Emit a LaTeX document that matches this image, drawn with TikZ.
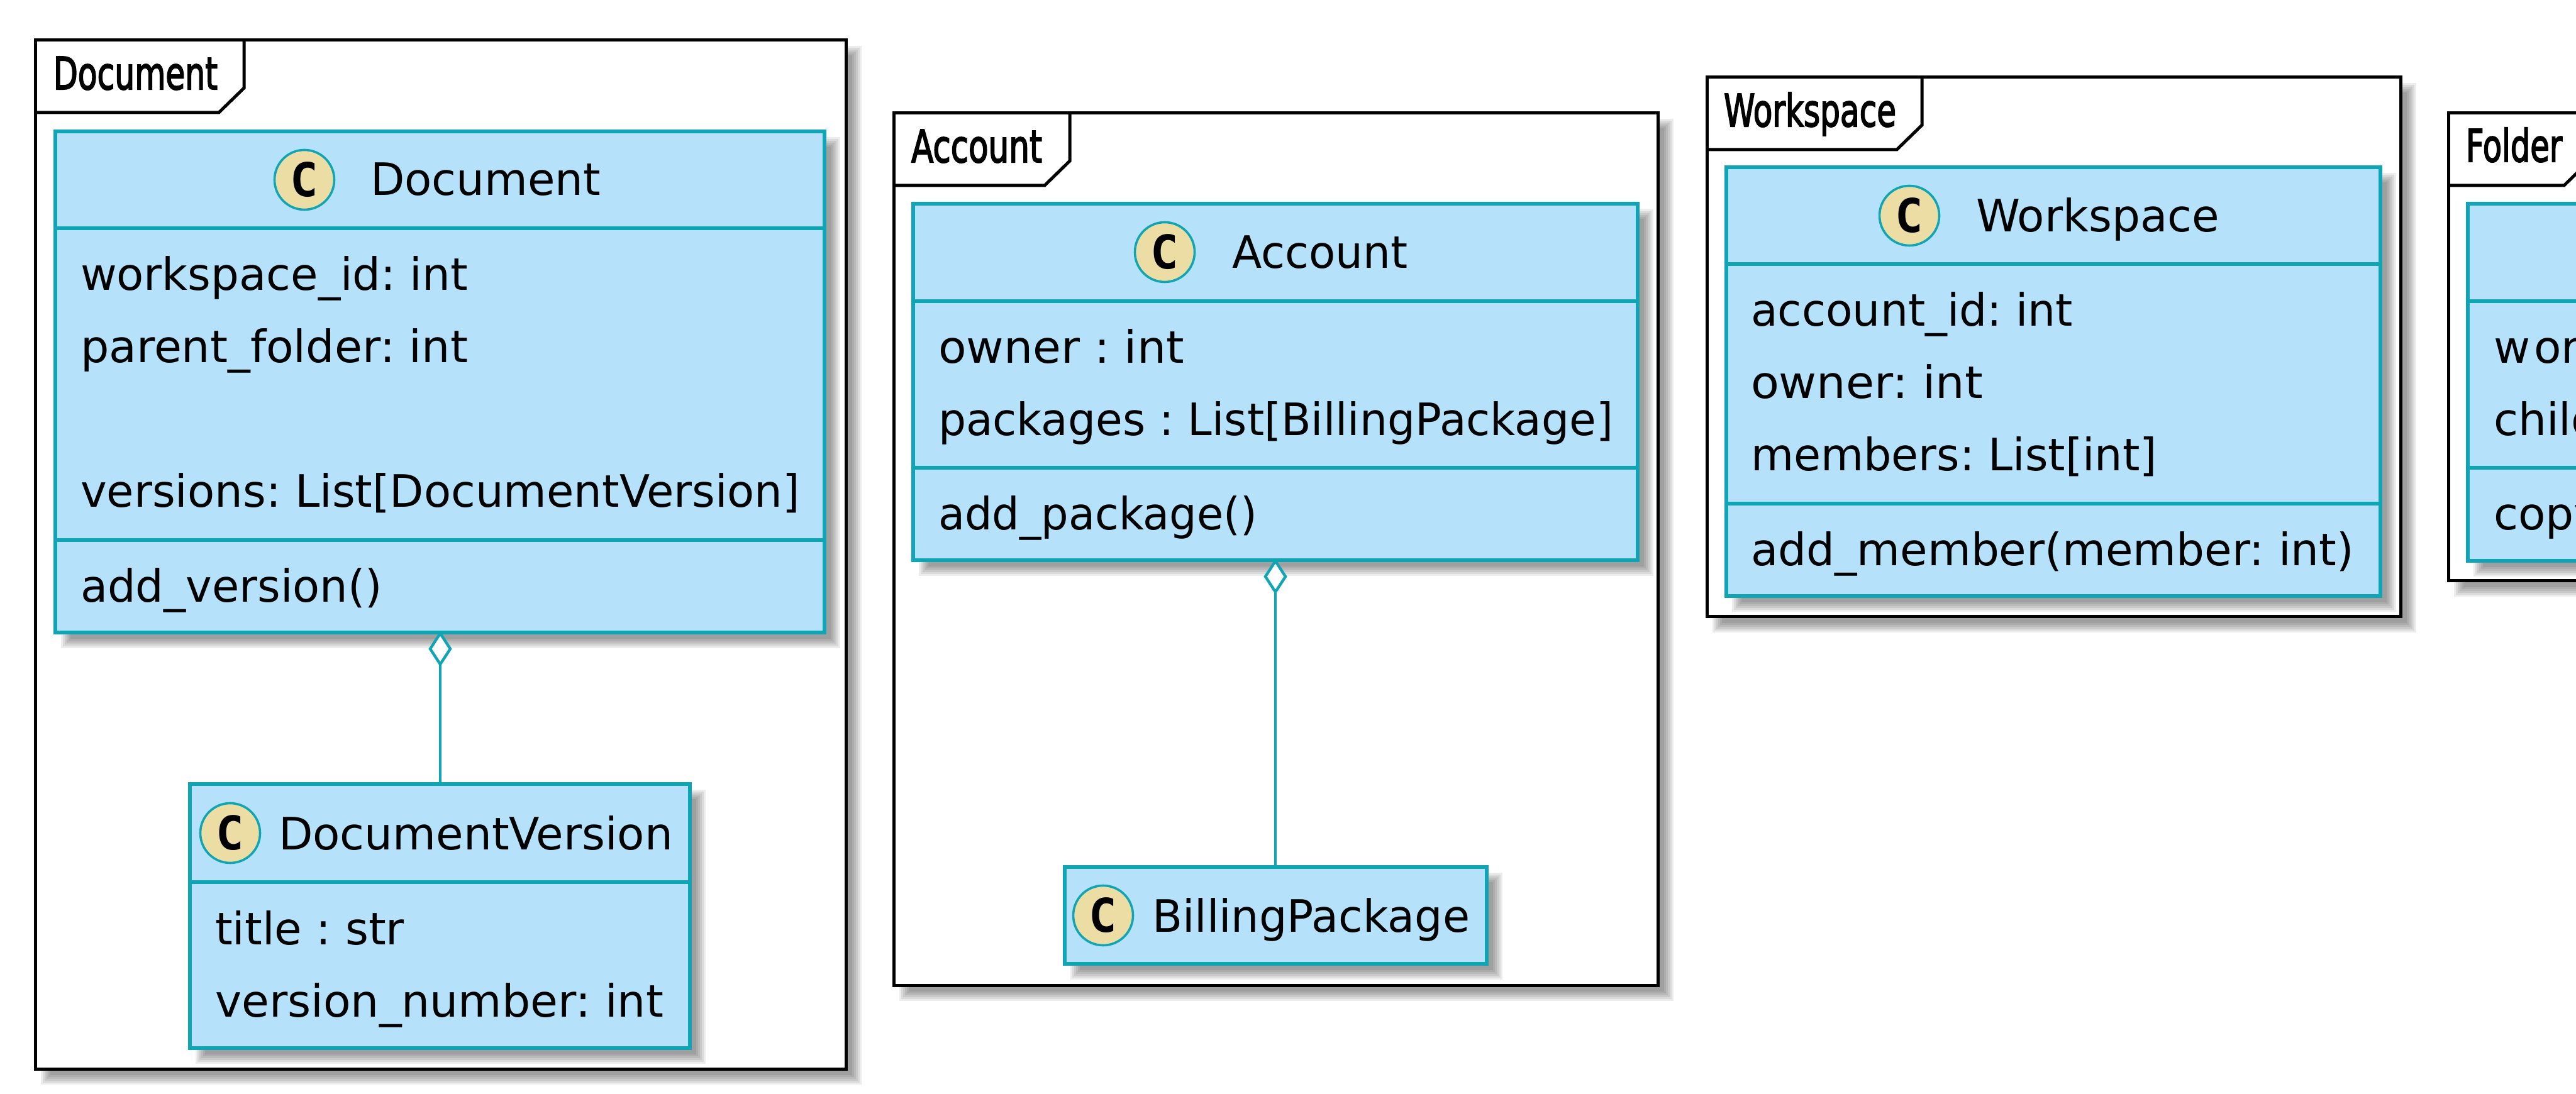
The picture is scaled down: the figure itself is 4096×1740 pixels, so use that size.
\documentclass[tikz,border=0pt]{standalone}
\usepackage{fontspec}
\usepackage{graphicx}
\usetikzlibrary{shapes.geometric}
\setmainfont{DejaVu Sans}
\newfontfamily\cglyph{DejaVu Sans Mono}
\newfontfamily\tabfont[FakeBold=3]{DejaVu Sans}
\definecolor{classfill}{HTML}{B5E1FA}
\definecolor{classline}{HTML}{10A5B5}
\definecolor{spotfill}{HTML}{ECDDA4}
\tikzset{
  x=0.25pt,y=-0.25pt,
  umlbox/.style={rectangle,draw=classline,fill=classfill,line width=1.4pt,inner sep=0pt,outer sep=0pt},
  divider/.style={draw=classline,line width=1.4pt},
  frameline/.style={draw=black,line width=1.25pt,line join=miter},
  umltext/.style={anchor=base west,inner sep=0pt,outer sep=0pt,text=black,font=\fontsize{17.75}{20}\selectfont},
  tablabel/.style={anchor=base west,inner sep=0pt,outer sep=0pt,text=black,font=\fontsize{17.75}{20}\selectfont\tabfont},
  spot/.style={circle,draw=classline,fill=spotfill,line width=0.9pt,minimum size=23.75pt,inner sep=0pt,outer sep=0pt,text=black,font=\cglyph\bfseries\fontsize{18.5}{20}\selectfont},
  link/.style={draw=classline,line width=1.1pt},
  aggr/.style={diamond,draw=classline,fill=white,line width=1.1pt,minimum width=8pt,minimum height=12.25pt,inner sep=0pt,outer sep=0pt,aspect=0.7}
}
% soft shadow: stacked translucent rectangles
\newcommand{\softshadow}[4]{%
  \foreach \d in {7,4,1,-2,-5,-8}{%
    \fill[black,fill opacity=0.074] ({#1+17+\d},{#2+17+\d}) rectangle ({#3+17-\d},{#4+17-\d});
  }}
\newcommand{\umlframe}[7]{% name L T R B tabR tabB
  \softshadow{#2}{#3}{#4}{#5}
  \node[rectangle,frameline,fill=white,inner sep=0pt,outer sep=0pt,minimum width={(#4-#2)*0.25pt},minimum height={(#5-#3)*0.25pt}] (#1) at ({(#2+#4)/2},{(#3+#5)/2}) {};
  \draw[frameline] (#2,#7) -- ({#6-40},#7) -- (#6,{#7-39}) -- (#6,#3);
}
\newcommand{\umlclass}[5]{% name L T R B
  \softshadow{#2}{#3}{#4}{#5}
  \node[umlbox,minimum width={(#4-#2)*0.25pt},minimum height={(#5-#3)*0.25pt}] (#1) at ({(#2+#4)/2},{(#3+#5)/2}) {};
}
\newcommand{\sepline}[3]{\draw[divider] (#1,#3) -- (#2,#3);}
\newcommand{\txt}[5]{% name x-left baseline x-right text
  \node[umltext] (#1) at (#2,#3) {\frenchspacing\resizebox{\dimexpr 0.25pt*\numexpr #4-#2\relax\relax}{\height}{#5}};}
\newcommand{\lab}[5]{%
  \node[tablabel] (#1) at (#2,#3) {\resizebox{\dimexpr 0.25pt*\numexpr #4-#2\relax\relax}{\height}{#5}};}
\begin{document}
\begin{tikzpicture}
\clip (0,0) rectangle (4096,1740);
\fill[white] (0,0) rectangle (4096,1740);

% ---- Document
\umlframe{fdoc}{56}{64}{1345}{1700}{388}{179}
\lab{ldoc}{85}{142}{346}{Document}
\umlclass{cdoc}{88}{209}{1311}{1006}
\sepline{88}{1311}{363}
\sepline{88}{1311}{859}
\node[spot] (sdoc) at (484,286) {C};
\txt{tdoc}{589}{311}{955}{Document}
\txt{d1}{128}{462}{744}{workspace\_id: int}
\txt{d2}{128}{577}{744}{parent\_folder: int}
\txt{d3}{128}{807}{1272}{versions: List[DocumentVersion]}
\txt{d4}{128}{958}{608}{add\_version()}
\umlclass{cdv}{302}{1247}{1097}{1667}
\sepline{302}{1097}{1403}
\node[spot] (sdv) at (366,1325) {C};
\txt{tdv}{443}{1351}{1070}{DocumentVersion}
\txt{v1}{342}{1502}{643}{title : str}
\txt{v2}{342}{1617}{1055}{version\_number: int}
\node[aggr] (adoc) at (700,1032) {};
\draw[link] (adoc.south) -- (adoc.south |- cdv.north);

% ---- Account
\umlframe{facc}{1421}{180}{2636}{1567}{1701}{295}
\lab{lacc}{1449}{258}{1657}{Account}
\umlclass{cacc}{1452}{324}{2604}{891}
\sepline{1452}{2604}{479}
\sepline{1452}{2604}{744}
\node[spot] (sacc) at (1852,401) {C};
\txt{tacc}{1959}{427}{2238}{Account}
\txt{a1}{1492}{578}{1883}{owner : int}
\txt{a2}{1492}{693}{2565}{packages : List[BillingPackage]}
\txt{a3}{1492}{843}{1999}{add\_package()}
\umlclass{cbp}{1693}{1379}{2364}{1533}
\node[spot] (sbp) at (1754,1456) {C};
\txt{tbp}{1832}{1482}{2337}{BillingPackage}
\node[aggr] (aacc) at (2028,917) {};
\draw[link] (aacc.south) -- (aacc.south |- cbp.north);

% ---- Workspace
\umlframe{fws}{2714}{123}{3817}{981}{3056}{238}
\lab{lws}{2741}{201}{3015}{Workspace}
\umlclass{cws}{2745}{266}{3785}{948}
\sepline{2745}{3785}{420}
\sepline{2745}{3785}{801}
\node[spot] (sws) at (3036,343) {C};
\txt{tws}{3142}{369}{3529}{Workspace}
\txt{w1}{2784}{519}{3296}{account\_id: int}
\txt{w2}{2784}{634}{3153}{owner: int}
\txt{w3}{2784}{749}{3430}{members: List[int]}
\txt{w4}{2784}{900}{3743}{add\_member(member: int)}

% ---- Folder (cut by the right edge)
\umlframe{ffo}{3893}{180}{4200}{924}{4117}{295}
\lab{lfo}{3921}{257}{4074}{Folder}
\umlclass{cfo}{3924}{324}{4200}{892}
\sepline{3924}{4200}{479}
\sepline{3924}{4200}{744}
\node[umltext] (f1) at (3965,578) {w\kern 1.5pt or};
\node[umltext] (f2) at (3965,693) {child};
\node[umltext] (f3) at (3965,843) {copy};
\end{tikzpicture}
\end{document}
